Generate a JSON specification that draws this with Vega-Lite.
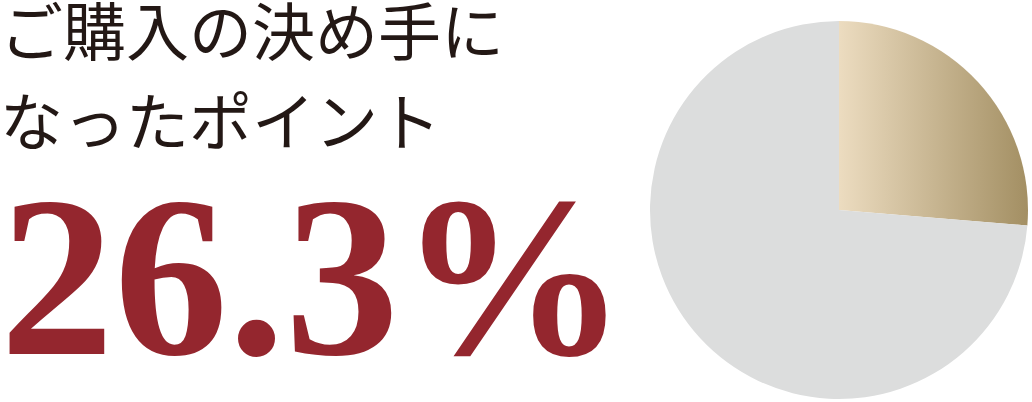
{
  "$schema": "https://vega.github.io/schema/vega-lite/v6.json",
  "width": 378,
  "height": 378,
  "autosize": "none",
  "padding": {"left": 650, "top": 21, "right": 4, "bottom": 3},
  "background": "#ffffff",
  "title": {
    "text": ["ご購入の決め手に", "なったポイント"],
    "subtitle": "26.3%",
    "anchor": "start",
    "frame": "group",
    "orient": "top",
    "font": "Noto Sans CJK JP",
    "fontSize": 63,
    "fontWeight": "normal",
    "color": "#231815",
    "lineHeight": 90,
    "subtitleFont": "Liberation Serif",
    "subtitleFontSize": 228,
    "subtitleFontWeight": "bold",
    "subtitleColor": "#94262e",
    "subtitlePadding": 16,
    "dx": -650,
    "dy": 383
  },
  "data": {
    "values": [
      {"item": "決め手になった", "value": 26.3},
      {"item": "その他", "value": 73.7}
    ]
  },
  "mark": {"type": "arc"},
  "encoding": {
    "theta": {"field": "value", "type": "quantitative", "stack": true},
    "color": {
      "condition": {
        "test": "datum.item === '決め手になった'",
        "value": {
          "gradient": "linear",
          "x1": 0, "y1": 0, "x2": 1, "y2": 0,
          "stops": [
            {"offset": 0, "color": "#ecdcc0"},
            {"offset": 1, "color": "#a38f63"}
          ]
        }
      },
      "value": "#dcdddd"
    }
  },
  "view": {"stroke": null}
}
